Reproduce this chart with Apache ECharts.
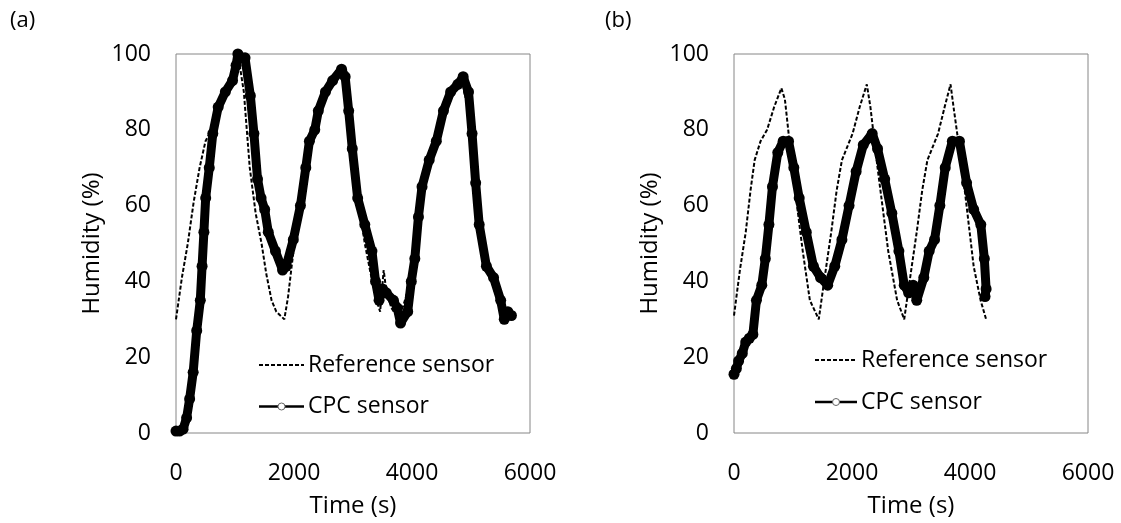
<!DOCTYPE html>
<html>
<head>
<meta charset="utf-8">
<script src="https://cdn.jsdelivr.net/npm/echarts@6/dist/echarts.min.js"></script>
<style>
  html, body { margin: 0; padding: 0; background: #fff; }
  #main { width: 1121px; height: 523px; }
</style>
</head>
<body>
<div id="main"></div>
<script>
// values: [time (s), humidity (%)]
var refSensorA = [[0,30],[100,41],[200,50],[300,61],[400,70],[500,77],[600,80],[700,85],[800,89],[900,92],[1000,95],[1080,97],
    [1150,90],[1250,70],[1350,58],[1450,50],[1530,42],[1620,35],[1700,32],[1836,30],[1900,36],[1960,44],[2050,55],[2150,65],
    [2250,74],[2350,80],[2450,86],[2550,89],[2650,92],[2750,94],[2820,95],[2900,86],[3000,72],[3100,60],[3200,50],[3300,42],
    [3400,35],[3460,32],[3520,43],[3560,38],[3650,33],[3780,30],[3900,36],[4000,45],[4100,55],[4200,64],[4300,71],[4400,77],
    [4500,82],[4600,86],[4700,90],[4850,93],[4950,85],[5050,70],[5150,58],[5250,48],[5350,40],[5450,35],[5600,30]];

var cpcSensorA = [[0,0.5],[60,0.5],[120,1],[180,4],[231,9],[291,16],[351,27],[412,35],[442,44],[473,53],[503,62],[564,70],
    [624,79],[715,86],[836,90],[958,93],[1018,97],[1049,100],[1110,99],[1170,99],[1260,89],[1321,79],[1382,67],[1442,62],
    [1503,59],[1564,53],[1685,48],[1806,43],[1867,44],[1988,51],[2109,60],[2200,70],[2261,77],[2352,80],[2412,85],[2533,90],
    [2655,93],[2806,96],[2867,94],[2927,85],[2988,75],[3079,62],[3200,55],[3321,48],[3382,40],[3442,35],[3500,38],[3564,37],
    [3685,35],[3750,33],[3806,29],[3927,32],[3988,40],[4048,46],[4109,57],[4170,65],[4291,72],[4412,77],[4533,85],[4655,90],
    [4776,92],[4867,94],[4958,90],[5018,79],[5079,66],[5139,55],[5261,44],[5382,41],[5503,35],[5564,30],[5624,32],[5685,31]];

var refSensorB = [[0,31],[100,43],[199,53],[280,64],[350,72],[450,77],[561,80],[680,86],[803,91],[863,88],[954,75],[1044,63],
    [1165,48],[1286,35],[1437,30],[1527,40],[1648,53],[1740,64],[1829,72],[2010,79],[2130,86],[2251,92],[2312,86],[2433,70],
    [2614,48],[2765,35],[2885,30],[2976,40],[3097,53],[3190,64],[3278,72],[3459,79],[3570,86],[3670,92],[3730,85],[3881,68],
    [4062,44],[4180,35],[4273,30]];

var cpcSensorB = [[0,15.5],[40,17],[78,19],[140,21],[199,24],[260,25],[320,26],[380,35],[471,39],[531,46],[592,55],[652,65],
    [742,74],[833,77],[924,77],[1014,70],[1105,62],[1225,53],[1346,44],[1467,41],[1588,39],[1708,44],[1829,51],[1950,60],
    [2070,69],[2191,76],[2342,79],[2433,75],[2554,67],[2675,58],[2795,48],[2885,39],[2960,37],[3036,39],[3097,35],[3217,41],
    [3308,48],[3399,51],[3489,60],[3580,70],[3701,77],[3821,77],[3942,66],[4062,59],[4183,55],[4243,46],[4273,38],[4255,36]];

var xTicks = [0, 2000, 4000, 6000];
var yTicks = [0, 20, 40, 60, 80, 100];
var seriesNames = ['Reference sensor', 'CPC sensor'];

var font = '"Open Sans", sans-serif';

function xAxisFor(idx) {
    return {
        type: 'value', gridIndex: idx,
        min: xTicks[0], max: xTicks[xTicks.length - 1], interval: xTicks[1] - xTicks[0],
        name: 'Time (s)', nameLocation: 'middle', nameGap: 61,
        nameTextStyle: { fontFamily: font, fontSize: 24, color: '#000' },
        axisLine: { show: false }, axisTick: { show: false }, splitLine: { show: false },
        axisLabel: { margin: 29, fontFamily: font, fontSize: 23, color: '#000',
            formatter: function (v) { return String(v); } }
    };
}
function yAxisFor(idx) {
    return {
        type: 'value', gridIndex: idx,
        min: yTicks[0], max: yTicks[yTicks.length - 1], interval: yTicks[1] - yTicks[0],
        name: 'Humidity (%)', nameLocation: 'middle', nameGap: 72, nameRotate: 90,
        nameTextStyle: { fontFamily: font, fontSize: 24, color: '#000' },
        axisLine: { show: false }, axisTick: { show: false }, splitLine: { show: false },
        axisLabel: { margin: 25, fontFamily: font, fontSize: 23, color: '#000' }
    };
}
function refSeries(idx, data) {
    return {
        name: seriesNames[0], type: 'line', xAxisIndex: idx, yAxisIndex: idx,
        data: data, showSymbol: false, symbol: 'none', z: 2,
        lineStyle: { color: '#000', width: 2, type: [4, 2] }
    };
}
function cpcSeries(idx, data) {
    return {
        name: seriesNames[1], type: 'line', xAxisIndex: idx, yAxisIndex: idx,
        data: data, symbol: 'circle', symbolSize: 11, showAllSymbol: true, z: 3,
        lineStyle: { color: '#000', width: 9, join: 'round', cap: 'round' },
        itemStyle: { color: '#000' }
    };
}
// legend drawn as graphic (dashed line / line with open circle)
function legendAt(x0, x1, yRef, yCpc) {
    var tx = x1 + 4;
    var txt = function (y, s) {
        return { type: 'text', x: tx, y: y, style: { text: s, font: '23px "Open Sans", sans-serif',
            fill: '#000', textVerticalAlign: 'middle', verticalAlign: 'middle' } };
    };
    return [
        { type: 'line', shape: { x1: x0, y1: yRef, x2: x1, y2: yRef },
          style: { stroke: '#000', lineWidth: 2, lineDash: [4, 2] } },
        txt(yRef, seriesNames[0]),
        { type: 'line', shape: { x1: x0, y1: yCpc, x2: x1, y2: yCpc },
          style: { stroke: '#000', lineWidth: 2.7 } },
        { type: 'circle', shape: { cx: (x0 + x1) / 2, cy: yCpc, r: 3.5 },
          style: { fill: '#fff', stroke: '#666', lineWidth: 1 } },
        txt(yCpc, seriesNames[1])
    ];
}

var myChart = echarts.init(document.getElementById('main'));
option = {
    animation: false,
    backgroundColor: '#fff',
    grid: [
        { left: 176, top: 54, width: 354, height: 381, show: true, borderColor: '#868686', borderWidth: 1 },
        { left: 734, top: 54, width: 354, height: 381, show: true, borderColor: '#868686', borderWidth: 1 }
    ],
    xAxis: [xAxisFor(0), xAxisFor(1)],
    yAxis: [yAxisFor(0), yAxisFor(1)],
    graphic: [
        { type: 'text', left: 10, top: 10, style: { text: '(a)', font: '22px "Open Sans", sans-serif', fill: '#000' } },
        { type: 'text', left: 605, top: 10, style: { text: '(b)', font: '22px "Open Sans", sans-serif', fill: '#000' } }
    ].concat(legendAt(259, 304, 365, 406.5)).concat(legendAt(815, 857, 360, 402)),
    series: [
        refSeries(0, refSensorA), cpcSeries(0, cpcSensorA),
        refSeries(1, refSensorB), cpcSeries(1, cpcSensorB)
    ]
};
myChart.setOption(option);
</script>
</body>
</html>
